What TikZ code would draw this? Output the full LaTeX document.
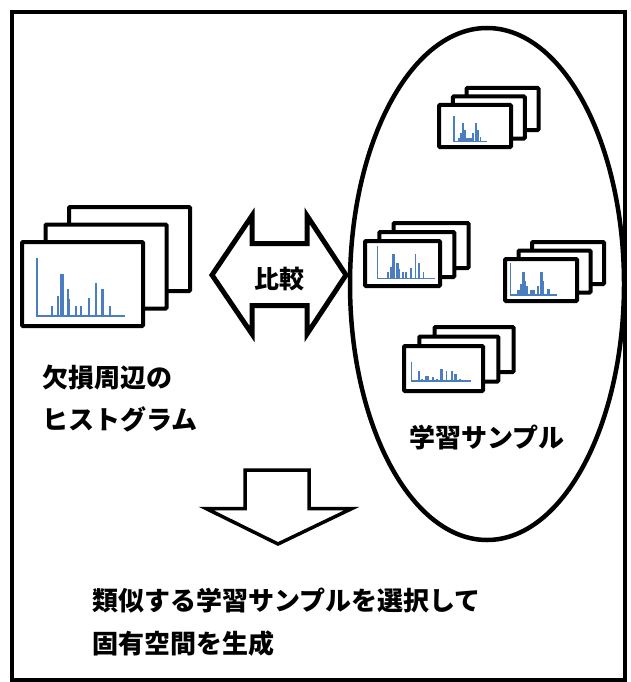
\documentclass[tikz,border=0pt]{standalone}
\usepackage{fontspec}
\newfontfamily\jpfont{Noto Sans CJK JP}
\usetikzlibrary{positioning, shapes.geometric}
\definecolor{histblue}{RGB}{74,126,193}

\tikzset{
    card/.style={draw, fill=white, line width=4pt, rounded corners=1pt, inner sep=0pt},
    blockarrow/.style={draw, fill=white, line width=5pt},
    jplabel/.style={inner sep=0pt, align=left, font=\jpfont\bfseries\fontsize{26}{42}\selectfont},
    jpsmall/.style={inner sep=0pt, align=left, font=\jpfont\bfseries\fontsize{25}{43}\selectfont},
}

% three cards, back to front: name, front centre, outer size, step to the next card
\newcommand{\cardstack}[7]{
    \coordinate (#1) at (#2,#3);
    \node[card, minimum width=#4-4, minimum height=#5-4] (#1-back) at ([shift={(2*#6,2*#7)}]#1) {};
    \node[card, minimum width=#4-4, minimum height=#5-4] (#1-mid) at ([shift={(#6,#7)}]#1) {};
    \node[card, minimum width=#4-4, minimum height=#5-4] (#1-front) at (#1) {};
}

% axis origin, axis length, axis height, axis line width, bars x/w/h in percent
\newcommand{\histo}[6]{
    \draw[histblue, line width=#5] (#1,#2-#4) -- (#1,#2) -- (#1+#3,#2);
    \foreach \bx/\bw/\bh in {#6}
        \fill[histblue] (#1+\bx*#3/100,#2) rectangle (#1+\bx*#3/100+\bw*#3/100,#2-\bh*#4/100);
}

\begin{document}
\begin{tikzpicture}[x=1pt, y=-1pt]
    \useasboundingbox (0,0) rectangle (630,682);
    % frame and sample set
    \draw[line width=4pt] (12,12) rectangle (625,680);
    \node[draw, line width=4.5pt, ellipse, minimum width=274, minimum height=512, inner sep=0pt] (samples) at (487,284) {};

    % histograms around the missing region
    \cardstack{hist}{82.5}{284}{125}{88}{23.5}{-17.5}
    \histo{36.7}{316}{88.3}{58}{2pt}{16.2/1.9/17, 23.4/1.9/35, 26.4/4.2/73, 34.3/1.9/47, 36.2/1.9/29, 43.8/1.9/17, 49.1/1.9/17, 58.1/1.9/31, 66/1.9/57, 72.8/3.4/47, 82.3/1.9/17}

    % learning samples
    \cardstack{sa}{475}{126}{76}{46}{13.75}{-8.5}
    \histo{454}{141.7}{32.7}{25.7}{1.3pt}{12/6/13, 18.4/7/35, 24.5/5/71, 29.6/7/45, 36.7/17/13, 54/7/32, 63/6/71, 69/6/45, 80/4/19}
    \cardstack{sb}{402.5}{263.5}{79}{49}{14.25}{-9}
    \histo{377.7}{278.3}{57.3}{32.3}{1.3pt}{16/3/21, 21.5/3.5/36, 25.6/4/75, 32/4.5/48, 36.6/2.3/29, 42.4/3.5/18, 47.7/3/18, 56.4/3/32, 65/2.5/75, 70/4.5/48, 79/2.5/21}
    \cardstack{sc}{541}{280}{76}{46}{13.5}{-8.5}
    \histo{510.7}{295}{46}{32.3}{1.3pt}{14.5/6/15, 20/4.5/33, 24.6/5.8/71, 30.4/3.6/43, 34/4/28, 42/11/15, 58/3.6/28, 63.8/5.8/71, 69.6/3/43, 78/7/19}
    \cardstack{sd}{443.5}{368.5}{83}{49}{15.25}{-9.5}
    \histo{411.7}{381}{59}{19.3}{1.3pt}{11.3/2.5/52, 15.3/4.5/12, 22.6/6.8/26, 35/3.4/19, 42/2.8/12, 48/4.5/62, 58/2.3/52, 66/3.4/52, 72/4.5/36, 80/2.8/10}

    % comparison arrow
    \draw[blockarrow] (212,275) -- (252,215.7) -- (252,243.7) -- (307,243.7) -- (307,215.7) -- (346,275)
        -- (307,334) -- (307,305.7) -- (252,305.7) -- (252,334) -- cycle;
    \node[jpsmall] (compare) at (279,279) {比較};

    % result arrow
    \draw[blockarrow, line width=3.5pt] (245,470) -- (309,470) -- (309,508.5) -- (352,508.5) -- (278,544)
        -- (206,508.5) -- (245,508.5) -- cycle;

    \node[jplabel, anchor=west] (histlabel) at (42,399) {欠損周辺の\\ヒストグラム};
    \node[jplabel, anchor=west] (samplelabel) at (409,437) {学習サンプル};
    \node[jplabel, font=\jpfont\bfseries\fontsize{26}{43}\selectfont, anchor=west] (resultlabel) at (92,622) {類似する学習サンプルを選択して\\固有空間を生成};
\end{tikzpicture}
\end{document}
